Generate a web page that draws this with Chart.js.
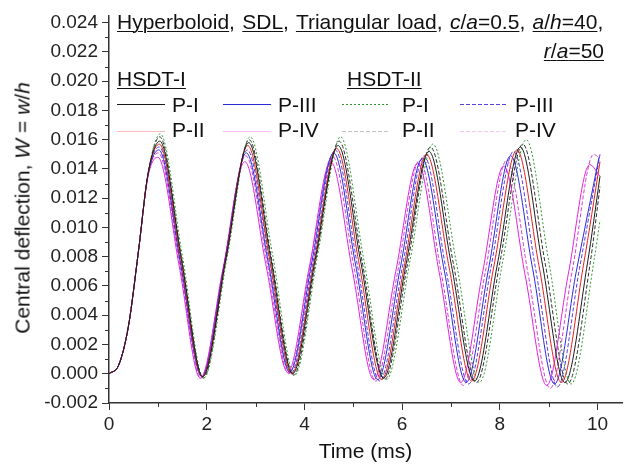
<!DOCTYPE html>
<html>
<head>
<meta charset="utf-8">
<script src="https://cdn.jsdelivr.net/npm/chart.js@4.4.1/dist/chart.umd.min.js"></script>
<style>
body { margin: 0; background: #fff; }
#wrap { position: relative; width: 627px; height: 465px; font-family: "Liberation Sans", Arial, sans-serif; color: #111; }
#c { position: absolute; left: 0; top: 0; }
.t { position: absolute; font-size: 21px; line-height: 21px; white-space: nowrap; }
.u { text-decoration: underline; text-decoration-thickness: 1px; text-underline-offset: 2px; }
svg { position: absolute; overflow: visible; }
</style>
</head>
<body>
<div id="wrap">
  <canvas id="c" width="627" height="465"></canvas>
  <div class="t" style="left:117px;top:11px;word-spacing:1.5px"><span class="u">Hyperboloid</span>, <span class="u">SDL</span>, <span class="u">Triangular load</span>, <span class="u"><i>c</i>/<i>a</i>=0.5</span>, <span class="u"><i>a</i>/<i>h</i>=40</span>,</div>
  <div class="t" style="right:23px;top:40px"><span class="u"><i>r</i>/<i>a</i>=50</span></div>
  <div class="t u" style="left:117px;top:68px">HSDT-I</div>
  <div class="t u" style="left:347px;top:68px">HSDT-II</div>
  <div class="t" style="left:22px;top:208px;transform:translate(-50%,-50%) rotate(-90deg)">Central deflection, <i>W</i> = <i>w</i>/<i>h</i></div>
</div>
<script>
// time (ms) vs central deflection W
var hsdt1_p1 = [[0,0],[0.2,0.0006],[0.4,0.0033],[0.6,0.0083],[0.8,0.0137],
  [1.04,0.0159],[1.48,0.0079],[1.92,-0.0002],[2.39,0.0078],[2.86,0.0158],[3.31,0.0079],[3.76,0.0000],
  [4.22,0.0078],[4.69,0.0156],[5.15,0.0077],[5.62,-0.0003],[6.08,0.0075],[6.55,0.0152],[7.01,0.0074],
  [7.48,-0.0005],[7.95,0.0075],[8.42,0.0155],[8.87,0.0075],[9.33,-0.0006],[9.79,0.0075],[10.05,0.0135]];
var hsdt1_p2 = [[0,0],[0.2,0.0006],[0.4,0.0033],[0.6,0.0083],[0.8,0.0137],
  [1.03,0.0157],[1.47,0.0078],[1.91,-0.0002],[2.38,0.0077],[2.84,0.0156],[3.29,0.0078],[3.74,0.0000],
  [4.20,0.0077],[4.66,0.0154],[5.12,0.0075],[5.58,-0.0004],[6.04,0.0073],[6.50,0.0150],[6.96,0.0073],
  [7.42,-0.0005],[7.88,0.0074],[8.35,0.0153],[8.80,0.0074],[9.26,-0.0006],[9.71,0.0074],[10.05,0.0145]];
var hsdt1_p3 = [[0,0],[0.2,0.0006],[0.4,0.0033],[0.6,0.0083],[0.8,0.0136],
  [1.02,0.0153],[1.46,0.0076],[1.90,-0.0002],[2.36,0.0075],[2.81,0.0151],[3.26,0.0076],[3.70,0.0001],
  [4.15,0.0076],[4.60,0.0151],[5.05,0.0074],[5.50,-0.0004],[5.96,0.0072],[6.41,0.0147],[6.86,0.0071],
  [7.31,-0.0006],[7.77,0.0072],[8.22,0.0149],[8.67,0.0072],[9.12,-0.0007],[9.57,0.0071],[10.03,0.0148]];
var hsdt1_p4 = [[0,0],[0.2,0.0006],[0.4,0.0033],[0.6,0.0083],[0.8,0.0135],
  [1.00,0.0148],[1.44,0.0073],[1.87,-0.0003],[2.33,0.0071],[2.78,0.0145],[3.22,0.0073],[3.66,0.0001],
  [4.10,0.0073],[4.54,0.0145],[4.98,0.0071],[5.42,-0.0004],[5.87,0.0070],[6.32,0.0144],[6.76,0.0069],
  [7.20,-0.0006],[7.64,0.0068],[8.08,0.0142],[8.52,0.0067],[8.96,-0.0008],[9.40,0.0068],[9.84,0.0143],[10.05,0.0135]];
var hsdt2_p1 = [[0,0],[0.2,0.0006],[0.4,0.0033],[0.6,0.0083],[0.8,0.0137],
  [1.05,0.0164],[1.50,0.0081],[1.94,-0.0003],[2.42,0.0080],[2.89,0.0162],[3.35,0.0081],[3.80,-0.0001],
  [4.27,0.0081],[4.74,0.0162],[5.21,0.0079],[5.68,-0.0004],[6.16,0.0077],[6.63,0.0157],[7.11,0.0076],
  [7.58,-0.0006],[8.06,0.0077],[8.54,0.0160],[9.00,0.0077],[9.46,-0.0007],[9.93,0.0078],[10.05,0.0105]];
var hsdt2_p2 = [[0,0],[0.2,0.0006],[0.4,0.0033],[0.6,0.0083],[0.8,0.0137],
  [1.04,0.0162],[1.48,0.0080],[1.93,-0.0003],[2.40,0.0079],[2.87,0.0160],[3.32,0.0080],[3.78,-0.0001],
  [4.24,0.0079],[4.71,0.0159],[5.18,0.0077],[5.64,-0.0004],[6.11,0.0075],[6.58,0.0155],[7.05,0.0075],
  [7.52,-0.0006],[8.00,0.0076],[8.47,0.0157],[8.93,0.0075],[9.39,-0.0007],[9.85,0.0076],[10.05,0.0128]];
var hsdt2_p3 = [[0,0],[0.2,0.0006],[0.4,0.0033],[0.6,0.0083],[0.8,0.0137],
  [1.03,0.0155],[1.46,0.0077],[1.90,-0.0002],[2.37,0.0076],[2.83,0.0153],[3.28,0.0077],[3.72,0.0000],
  [4.18,0.0077],[4.63,0.0153],[5.08,0.0075],[5.54,-0.0005],[6.00,0.0072],[6.45,0.0149],[6.90,0.0071],
  [7.36,-0.0007],[7.82,0.0073],[8.28,0.0152],[8.73,0.0072],[9.18,-0.0009],[9.63,0.0072],[10.05,0.0150]];
var hsdt2_p4 = [[0,0],[0.2,0.0006],[0.4,0.0033],[0.6,0.0083],[0.8,0.0136],
  [1.01,0.0151],[1.45,0.0074],[1.88,-0.0003],[2.34,0.0073],[2.80,0.0149],[3.24,0.0075],[3.68,0.0000],
  [4.12,0.0074],[4.57,0.0149],[5.02,0.0072],[5.46,-0.0005],[5.91,0.0070],[6.36,0.0146],[6.80,0.0069],
  [7.25,-0.0008],[7.70,0.0069],[8.14,0.0146],[8.58,0.0068],[9.03,-0.0010],[9.48,0.0070],[9.92,0.0150],[10.05,0.0147]];

var seriesLabels = ['P-I', 'P-II', 'P-III', 'P-IV', 'P-I', 'P-II', 'P-III', 'P-IV'];
var seriesData = [hsdt1_p1, hsdt1_p2, hsdt1_p3, hsdt1_p4, hsdt2_p1, hsdt2_p2, hsdt2_p3, hsdt2_p4];

var xTicks = [0, 2, 4, 6, 8, 10];
var yTickStep = 0.002;

// styles
var colors = ['#1a1a1a', '#e5201c', '#2a2ad8', '#e023e0', '#2e9a2e', '#333333', '#5a3ee0', '#d640d6'];
var dashes = [[], [], [], [], [2, 2], [4, 2], [4, 2], [4, 2]];
// legend slot (col,row) for every series, like the figure
var legendSlot = [[0,0],[0,1],[1,0],[1,1],[2,0],[2,1],[3,0],[3,1]];
var legendLineX = [117, 223, 342, 460];
var legendTextX = [172, 278, 402, 515];
var legendLineY = [104, 131];
var legendTextY = [94, 119];

var datasets = [];
for (var i = 0; i < seriesData.length; i++) {
    datasets.push({
        label: seriesLabels[i],
        data: seriesData[i].map(function (p) { return {x: p[0], y: p[1]}; }),
        borderColor: colors[i],
        borderWidth: 1,
        borderDash: dashes[i],
        pointRadius: 0,
        fill: false,
        cubicInterpolationMode: 'monotone'
    });
}

// html legend
var wrap = document.getElementById('wrap');
var svgNS = 'http://www.w3.org/2000/svg';
for (var i = 0; i < seriesLabels.length; i++) {
    var col = legendSlot[i][0], row = legendSlot[i][1];
    var svg = document.createElementNS(svgNS, 'svg');
    svg.setAttribute('width', 50);
    svg.setAttribute('height', 4);
    svg.style.left = legendLineX[col] + 'px';
    svg.style.top = (legendLineY[row] - 2) + 'px';
    var ln = document.createElementNS(svgNS, 'line');
    ln.setAttribute('x1', 0); ln.setAttribute('x2', 48);
    ln.setAttribute('y1', 2.5); ln.setAttribute('y2', 2.5);
    ln.setAttribute('stroke', colors[i]);
    ln.setAttribute('stroke-width', 1);
    if (dashes[i].length) ln.setAttribute('stroke-dasharray', dashes[i].join(' '));
    if (row == 1) ln.setAttribute('stroke-opacity', 0.3);
    svg.appendChild(ln);
    wrap.appendChild(svg);
    var tx = document.createElement('div');
    tx.className = 't';
    tx.style.left = legendTextX[col] + 'px';
    tx.style.top = legendTextY[row] + 'px';
    tx.textContent = seriesLabels[i];
    wrap.appendChild(tx);
}

// short minor ticks between the labelled ones
var minorTicks = {
    id: 'minorTicks',
    afterDraw: function (chart) {
        var ctx = chart.ctx, x = chart.scales.x, y = chart.scales.y;
        ctx.save();
        ctx.strokeStyle = '#333';
        ctx.lineWidth = 1;
        ctx.beginPath();
        for (var v = 1; v < x.max; v += 2) {
            var px = Math.round(x.getPixelForValue(v)) + 0.5;
            ctx.moveTo(px, x.top);
            ctx.lineTo(px, x.top + 4);
        }
        for (var k = -1; k <= 23; k += 2) {
            var py = Math.round(y.getPixelForValue(k / 1000)) + 0.5;
            ctx.moveTo(y.right, py);
            ctx.lineTo(y.right - 4, py);
        }
        ctx.stroke();
        ctx.restore();
    }
};

Chart.defaults.font.family = '"Liberation Sans", Arial, sans-serif';
Chart.defaults.color = '#222';

new Chart(document.getElementById('c').getContext('2d'), {
    type: 'line',
    data: { datasets: datasets },
    options: {
        responsive: false,
        animation: false,
        devicePixelRatio: 1,
        layout: { padding: { top: 12, right: 5, bottom: 0, left: 0 } },
        plugins: { legend: { display: false }, tooltip: { enabled: false } },
        scales: {
            x: {
                type: 'linear',
                min: 0, max: 10.5,
                afterFit: function (s) { s.height = 62; },
                border: { color: '#333', width: 1.5 },
                grid: { drawOnChartArea: false, tickLength: 7, tickColor: '#333' },
                afterBuildTicks: function (s) { s.ticks = xTicks.map(function (v) { return {value: v}; }); },
                ticks: { font: { size: 19 }, padding: 3, maxRotation: 0,
                    callback: function (v) { return String(v); } },
                title: { display: true, text: 'Time (ms)', font: { size: 21 }, padding: { top: 0, bottom: 0 }, color: '#111' }
            },
            y: {
                type: 'linear',
                min: -0.002, max: 0.0245,
                afterFit: function (s) { s.width = 109; },
                border: { color: '#333', width: 1.5 },
                grid: { drawOnChartArea: false, tickLength: 7, tickColor: '#333' },
                ticks: { stepSize: yTickStep, includeBounds: false, font: { size: 19 }, padding: 4,
                    callback: function (v) { return Number(v).toFixed(3); } }
            }
        }
    },
    plugins: [minorTicks]
});
</script>
</body>
</html>
